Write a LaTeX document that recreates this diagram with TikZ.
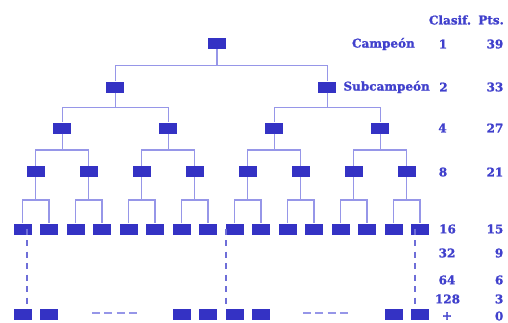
\documentclass[tikz,border=0pt]{standalone}
\usepackage{fontspec}
\newfontfamily\tablefont{DejaVu Serif Bold}[FakeBold=1.3]
\definecolor{boxblue}{RGB}{52,50,196}
\definecolor{txtblue}{RGB}{64,64,204}
\definecolor{linkblue}{RGB}{150,150,232}
\definecolor{dashblue}{RGB}{110,110,216}
\tikzset{
  team/.style={rectangle, fill=boxblue, minimum width=18pt, minimum height=11pt, inner sep=0pt},
  link/.style={draw=linkblue, line width=1.3pt},
  vdots/.style={draw=dashblue, line width=1.6pt, dash pattern=on 6pt off 5.5pt},
  hdots/.style={draw=linkblue, line width=2pt, dash pattern=on 8pt off 4.3pt},
  lbl/.style={text=txtblue, font=\tablefont\fontsize{12}{14}\selectfont, inner sep=0pt}
}
\begin{document}
\begin{tikzpicture}[x=1pt,y=-1pt]
\useasboundingbox (0,0) rectangle (508,322);

% rounds of the bracket
\node[team] (t) at (217,43.5) {};
\node[team] (a1) at (115.25,87) {};
\node[team] (a2) at (327.25,87) {};
\foreach \i/\x in {1/62.25,2/168.25,3/274.25,4/380.25}
  \node[team] (b\i) at (\x,128) {};
\foreach \i in {1,...,8}
  \node[team] (c\i) at ({35.75+53*(\i-1)},171.5) {};
\foreach \i in {1,...,16}
  \node[team] (d\i) at ({22.5+26.5*(\i-1)},229) {};

% last row
\foreach \i/\x in {1/22.5,2/49,3/182,4/208,5/235,6/261,7/394,8/420}
  \node[team] (e\i) at (\x,314) {};

% heights of the horizontal joins
\coordinate (y1) at (0,65.5);
\coordinate (y2) at (0,107.5);
\coordinate (y3) at (0,150);
\coordinate (y4) at (0,200);

% joins: parent above, left and right child below
\foreach \p/\l/\r/\h in {t/a1/a2/y1, a1/b1/b2/y2, a2/b3/b4/y2,
    b1/c1/c2/y3, b2/c3/c4/y3, b3/c5/c6/y3, b4/c7/c8/y3,
    c1/d1/d2/y4, c2/d3/d4/y4, c3/d5/d6/y4, c4/d7/d8/y4,
    c5/d9/d10/y4, c6/d11/d12/y4, c7/d13/d14/y4, c8/d15/d16/y4} {
  \draw[link] (\l.north) -- (\l.north |- \h) -- (\r.north |- \h) -- (\r.north);
  \draw[link] (\p.south) -- (\p.south |- \h);
}

% dotted descents to the last row
\draw[vdots] ([xshift=4.5pt,yshift=6pt]d1.south) -- ([xshift=4.5pt]e1.north);
\draw[vdots] ([xshift=-8.5pt,yshift=6pt]d9.south) -- ([xshift=-9pt]e5.north);
\draw[vdots] ([xshift=-5pt,yshift=6pt]d16.south) -- ([xshift=-5pt]e8.north);

% gaps in the last row
\coordinate (g1a) at (92,313);  \coordinate (g1b) at (137,313);
\coordinate (g2a) at (303,313); \coordinate (g2b) at (350,313);
\draw[hdots] (g1a) -- (g1b);
\draw[hdots] (g2a) -- (g2b);

% table of places and points
\node[lbl] (hc) at (450,20) {Clasif.};
\node[lbl, anchor=east] (hp) at (504,20) {Pts.};
\node[lbl, anchor=east] (n1) at (415,44) {Campeón};
\node[lbl, anchor=east] (n2) at (430,87) {Subcampeón};
\foreach \k/\c/\y/\v in {r1/443/44/1, r2/443.5/87/2, r4/442.5/128/4, r8/443/172/8,
    r16/447.5/229/16, r32/447/253/32, r64/447/280/64, r128/447.5/299/128, rx/447/316/+}
  \node[lbl] (\k) at (\c,\y) {\v};
\foreach \k/\y/\v in {p1/44/39, p2/87/33, p4/128/27, p8/172/21,
    p16/229/15, p32/253/9, p64/280/6, p128/299/3, px/316/0}
  \node[lbl, anchor=east] (\k) at (503.5,\y) {\v};
\end{tikzpicture}
\end{document}
